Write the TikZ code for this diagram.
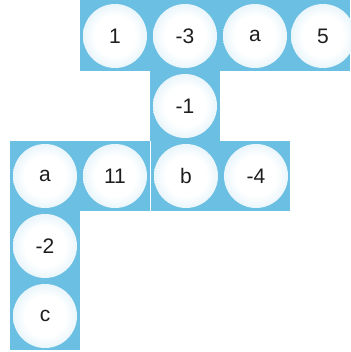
\documentclass[tikz,border=0pt]{standalone}
\usepackage{fontspec}
\setmainfont{Liberation Sans}
\definecolor{bg}{RGB}{106,191,227}
\definecolor{txt}{RGB}{30,30,30}
\pgfdeclareradialshading{bubble}{\pgfpoint{0bp}{0bp}}{color(0bp)=(white); color(16bp)=(white); color(27bp)=(white!82!bg); color(35bp)=(white!50!bg); color(40bp)=(white!15!bg)}
\tikzset{
  block/.style={fill=bg, draw=none},
  bub/.style={circle, minimum size=64pt, inner sep=0pt, shading=bubble, draw=none,
    font=\fontsize{21}{21}\selectfont, text=txt}
}
\begin{document}
\begin{tikzpicture}[x=1pt,y=-1pt]
\useasboundingbox (0,0) rectangle (350,352);
% blocks
\fill[block] (80,0) rectangle (350,71);
\fill[block] (150,71) rectangle (220,141);
\fill[block] (10,141) rectangle (150,211);
\fill[block] (151,141) rectangle (290,211);
\fill[block] (10,211) rectangle (80,350);
% bubbles
\node[bub] (t1) at (115,36) {1};
\node[bub] (t2) at (185,36) {-3};
\node[bub] (t3) at (255,36) {a};
\node[bub] (t4) at (323,36) {5};
\node[bub] (m1) at (185,106) {-1};
\node[bub] (r1) at (45,176) {a};
\node[bub] (r2) at (115,176) {11};
\node[bub] (r3) at (186,176) {b};
\node[bub] (r4) at (256,176) {-4};
\node[bub] (c1) at (45,246) {-2};
\node[bub] (c2) at (45,316) {c};
\end{tikzpicture}
\end{document}
